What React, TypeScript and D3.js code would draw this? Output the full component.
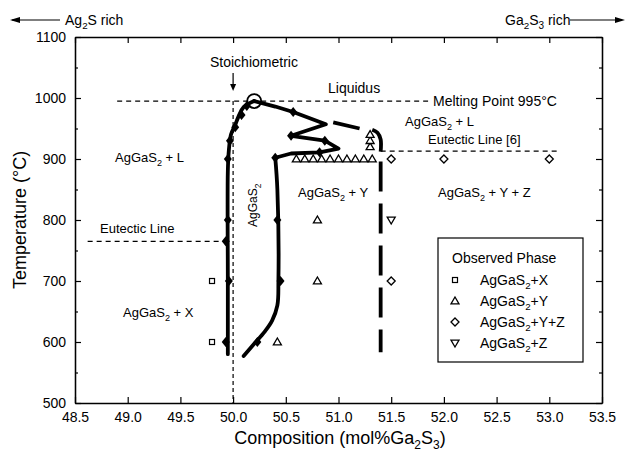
import React, { useEffect, useRef } from 'react'
import * as d3 from 'd3'

// observed phases (composition mol% Ga2S3, temperature °C)
const obsX: [number, number][] = [[49.8, 700], [49.8, 600]]
const obsY: [number, number][] = [
  [50.6, 900], [50.68, 900], [50.76, 900], [50.84, 900], [50.92, 900],
  [51.0, 900], [51.08, 900], [51.16, 900], [51.24, 900], [51.32, 900],
  [51.3, 920], [51.3, 930], [51.3, 940],
  [50.8, 800], [50.8, 700], [50.42, 600],
]
const obsYZ: [number, number][] = [[51.5, 900], [52.0, 900], [53.0, 900], [51.5, 700]]
const obsZ: [number, number][] = [[51.5, 800]]

// phase boundaries
const solidusLeft: [number, number][] = [
  [49.95, 580], [49.95, 700], [49.95, 880], [49.96, 915], [49.98, 940],
  [50.02, 956], [50.05, 969], [50.1, 985], [50.2, 995],
]
const liquidus: [number, number][] = [
  [50.2, 995], [50.4, 986], [50.57, 977], [50.88, 957], [50.55, 938],
  [50.87, 930], [51.0, 917], [50.82, 911], [50.55, 909], [50.4, 902],
]
const solidusRight: [number, number][] = [
  [50.4, 902], [50.42, 850], [50.43, 700], [50.42, 660], [50.37, 635],
  [50.3, 617], [50.2, 597], [50.1, 577],
]
const liquidusDash: [number, number][] = [[50.95, 960], [51.2, 950]]
const liquidusArc: [number, number][] = [[51.32, 948], [51.37, 943], [51.4, 932], [51.4, 912]]
const boundaryYZ: [number, number][] = [[51.4, 896], [51.4, 583]]
const curveMarks: [number, number][] = [
  [49.93, 600], [49.96, 700], [49.93, 765], [49.95, 800], [49.95, 900],
  [49.97, 930], [50.02, 952], [50.08, 972], [50.13, 987],
  [50.57, 977], [50.55, 938], [50.87, 930], [50.82, 911], [50.4, 902],
  [50.42, 800], [50.45, 700], [50.23, 600],
]
const meltingPoint: [number, number] = [50.2, 995]
const meltingT = 995
const eutecticLeftT = 765
const eutecticRightT = 913

const xTicks = [48.5, 49.0, 49.5, 50.0, 50.5, 51.0, 51.5, 52.0, 52.5, 53.0, 53.5]
const yTicks = [500, 600, 700, 800, 900, 1000, 1100]
const yMinor = [550, 650, 750, 850, 950, 1050]

const legendItems = ['X', 'Y', 'Y+Z', 'Z']

const font = "'Liberation Sans', Arial, sans-serif"

const x = d3.scaleLinear().domain([48.5, 53.5]).range([75, 602])
const y = d3.scaleLinear().domain([500, 1100]).range([403, 37])

function marker(kind: string, cx: number, cy: number, key?: string | number) {
  const s = 4
  if (kind === 'X') return <rect key={key} x={cx - 2.5} y={cy - 2.5} width={5} height={5} fill="white" stroke="black" strokeWidth={1.2} />
  if (kind === 'Y') return <path key={key} d={`M${cx},${cy - s}L${cx + s},${cy + s * 0.7}L${cx - s},${cy + s * 0.7}Z`} fill="white" stroke="black" strokeWidth={1.3} />
  if (kind === 'Y+Z') return <path key={key} d={`M${cx},${cy - s}L${cx + s},${cy}L${cx},${cy + s}L${cx - s},${cy}Z`} fill="white" stroke="black" strokeWidth={1.3} />
  return <path key={key} d={`M${cx},${cy + s}L${cx + s},${cy - s * 0.7}L${cx - s},${cy - s * 0.7}Z`} fill="white" stroke="black" strokeWidth={1.3} />
}

function Sub({ base, sub, rest, size }: { base: string; sub: string; rest?: string; size: number }) {
  return (
    <>
      {base}
      <tspan dy={size * 0.3} fontSize={size * 0.7}>{sub}</tspan>
      <tspan dy={-size * 0.3}>{rest}</tspan>
    </>
  )
}

export default function App() {
  const axRef = useRef<SVGGElement>(null)

  useEffect(() => {
    const g = d3.select(axRef.current)
    g.selectAll('*').remove()
    g.append('g').attr('transform', 'translate(0,403)')
      .call(d3.axisBottom(x).tickValues(xTicks).tickFormat(d3.format('.1f')).tickSizeInner(-6).tickSizeOuter(0).tickPadding(9))
    g.append('g').attr('transform', 'translate(0,37)')
      .call(d3.axisTop(x).tickValues(xTicks).tickFormat(() => '').tickSizeInner(-6).tickSizeOuter(0))
    g.append('g').attr('transform', 'translate(75,0)')
      .call(d3.axisLeft(y).tickValues(yTicks).tickFormat(d3.format('d')).tickSizeInner(-6).tickSizeOuter(0).tickPadding(9))
    g.append('g').attr('transform', 'translate(75,0)')
      .call(d3.axisLeft(y).tickValues(yMinor).tickFormat(() => '').tickSizeInner(-3).tickSizeOuter(0))
    g.append('g').attr('transform', 'translate(602,0)')
      .call(d3.axisRight(y).tickValues(yTicks).tickFormat(() => '').tickSizeInner(-6).tickSizeOuter(0))
    g.append('g').attr('transform', 'translate(602,0)')
      .call(d3.axisRight(y).tickValues(yMinor).tickFormat(() => '').tickSizeInner(-3).tickSizeOuter(0))
    g.selectAll('.domain').attr('stroke', 'black').attr('stroke-width', 1.3)
    g.selectAll('.tick line').attr('stroke', 'black').attr('stroke-width', 1.2)
    g.selectAll('text').attr('font-family', font).attr('font-size', 14).attr('fill', 'black')
  }, [])

  const line = d3.line<[number, number]>().x(d => x(d[0])).y(d => y(d[1]))
  const smooth = d3.line<[number, number]>().x(d => x(d[0])).y(d => y(d[1])).curve(d3.curveCatmullRom.alpha(0.5))

  const thick = { fill: 'none', stroke: 'black', strokeWidth: 3.8, strokeLinejoin: 'round' as const, strokeLinecap: 'round' as const }

  return (
    <svg width={632} height={452} style={{ position: 'absolute', left: 0, top: 0, background: 'white' }} fontFamily={font}>
      {/* guide lines */}
      <line x1={x(48.9)} x2={x(51.85)} y1={y(meltingT)} y2={y(meltingT)} stroke="black" strokeWidth={1.2} strokeDasharray="5,4" />
      <line x1={x(50.0)} x2={x(50.0)} y1={y(meltingT)} y2={403} stroke="black" strokeWidth={1.2} strokeDasharray="4,3" />
      <line x1={x(48.62)} x2={x(49.93)} y1={y(eutecticLeftT)} y2={y(eutecticLeftT)} stroke="black" strokeWidth={1.2} strokeDasharray="5,4" />
      <line x1={x(51.4)} x2={x(53.1)} y1={y(eutecticRightT)} y2={y(eutecticRightT)} stroke="black" strokeWidth={1.2} strokeDasharray="5,4" />

      {/* boundaries */}
      <path d={smooth(solidusLeft) ?? ''} {...thick} />
      <path d={line(liquidus) ?? ''} {...thick} />
      <path d={smooth(solidusRight) ?? ''} {...thick} />
      <path d={line(liquidusDash) ?? ''} {...thick} strokeLinecap="butt" />
      <path d={smooth(liquidusArc) ?? ''} {...thick} strokeLinecap="butt" />
      <path d={line(boundaryYZ) ?? ''} {...thick} strokeLinecap="butt" strokeDasharray="30,12" />
      {curveMarks.map((d, i) => (
        <path key={i} d={`M${x(d[0])},${y(d[1]) - 5}L${x(d[0]) + 4},${y(d[1])}L${x(d[0])},${y(d[1]) + 5}L${x(d[0]) - 4},${y(d[1])}Z`} fill="black" />
      ))}
      <circle cx={x(meltingPoint[0])} cy={y(meltingPoint[1])} r={7} fill="none" stroke="black" strokeWidth={1.8} />

      {/* observed phases */}
      {obsX.map((d, i) => marker('X', x(d[0]), y(d[1]), 'x' + i))}
      {obsY.map((d, i) => marker('Y', x(d[0]), y(d[1]), 'y' + i))}
      {obsYZ.map((d, i) => marker('Y+Z', x(d[0]), y(d[1]), 'yz' + i))}
      {obsZ.map((d, i) => marker('Z', x(d[0]), y(d[1]), 'z' + i))}

      <g ref={axRef} />

      {/* annotations */}
      <g fontSize={14} fill="black">
        <text x={210} y={67}>Stoichiometric</text>
        <text x={328} y={93}>Liquidus</text>
        <text x={433} y={106}>Melting Point 995°C</text>
      </g>
      <line x1={x(50)} x2={x(50)} y1={73} y2={86} stroke="black" strokeWidth={1.2} />
      <path d={`M${x(50) - 3},${84}L${x(50) + 3},${84}L${x(50)},${91}Z`} fill="black" />
      <g fontSize={13} fill="black">
        <text x={405} y={126}><Sub base="AgGaS" sub="2" rest=" + L" size={13} /></text>
        <text x={428} y={144}>Eutectic Line [6]</text>
        <text x={115} y={162}><Sub base="AgGaS" sub="2" rest=" + L" size={13} /></text>
        <text x={100} y={233}>Eutectic Line</text>
        <text x={123} y={317}><Sub base="AgGaS" sub="2" rest=" + X" size={13} /></text>
        <text x={298} y={197}><Sub base="AgGaS" sub="2" rest=" + Y" size={13} /></text>
        <text x={438} y={197}><Sub base="AgGaS" sub="2" rest=" + Y + Z" size={13} /></text>
        <text transform={`translate(257,227) rotate(-90)`} fontSize={12}><Sub base="AgGaS" sub="2" size={12} /></text>
      </g>

      {/* header arrows */}
      <g fontSize={14} fill="black">
        <line x1={12} x2={60} y1={20} y2={20} stroke="black" strokeWidth={1.2} />
        <path d="M10,20L20,17L20,23Z" fill="black" />
        <text x={65} y={25}><Sub base="Ag" sub="2" rest="S rich" size={14} /></text>
        <text x={505} y={25}><Sub base="Ga" sub="2" rest="S" size={14} /><tspan dy={4} fontSize={10}>3</tspan><tspan dy={-4}> rich</tspan></text>
        <line x1={570} x2={622} y1={20} y2={20} stroke="black" strokeWidth={1.2} />
        <path d="M625,20L615,17L615,23Z" fill="black" />
      </g>

      {/* axis titles */}
      <text transform="translate(26,220) rotate(-90)" textAnchor="middle" fontSize={18}>Temperature (°C)</text>
      <text x={340} y={444} textAnchor="middle" fontSize={18}>
        Composition (mol%Ga<tspan dy={5} fontSize={12}>2</tspan><tspan dy={-5}>S</tspan><tspan dy={5} fontSize={12}>3</tspan><tspan dy={-5}>)</tspan>
      </text>

      {/* legend */}
      <g>
        <rect x={438} y={238} width={145} height={124} fill="white" stroke="black" strokeWidth={1.2} />
        <text x={452} y={263} fontSize={14}>Observed Phase</text>
        {legendItems.map((k, i) => (
          <g key={k}>
            {marker(k, 455, 280 + i * 21)}
            <text x={480} y={285 + i * 21} fontSize={14}><Sub base="AgGaS" sub="2" rest={'+' + k} size={14} /></text>
          </g>
        ))}
      </g>
    </svg>
  )
}
